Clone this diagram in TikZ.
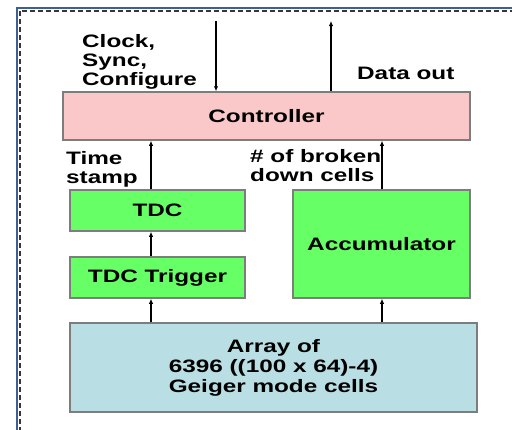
\documentclass[tikz,border=0pt]{standalone}
\usepackage{fontspec}
\setmainfont{Liberation Sans}[FakeStretch=1.35]
\usetikzlibrary{arrows.meta}
\definecolor{pinkfill}{RGB}{250,200,200}
\definecolor{greenfill}{RGB}{102,255,102}
\definecolor{bluefill}{RGB}{185,222,227}
\definecolor{boxedge}{RGB}{125,125,125}
\definecolor{frameblue}{RGB}{60,95,150}
\definecolor{framedash}{RGB}{55,55,55}
\tikzset{
  box/.style={draw=boxedge, line width=1.5pt, inner sep=0pt, align=center,
    font=\fontsize{18}{20}\selectfont\bfseries},
  lbl/.style={inner sep=0pt, align=left, font=\fontsize{18}{19}\selectfont\bfseries},
  arr/.style={line width=1.8pt, -{Latex[length=5pt,width=4.5pt]}},
}
\begin{document}
\begin{tikzpicture}[x=1pt,y=-1pt]
\useasboundingbox (0,0) rectangle (512,429);
% frame
\draw[frameblue, line width=1.6pt] (17,440) -- (17,8) -- (520,8);
\draw[framedash, line width=1.6pt, dash pattern=on 5pt off 3pt] (19.7,440) -- (19.7,10.7) -- (520,10.7);
% boxes
\node[box, fill=pinkfill, minimum width=407pt, minimum height=48pt] (ctrl) at (266.5,116) {Controller};
\node[box, fill=greenfill, minimum width=175pt, minimum height=41pt] (tdc) at (157.5,210.5) {TDC};
\node[box, fill=greenfill, minimum width=175pt, minimum height=41pt] (trig) at (157.5,277.5) {TDC Trigger};
\node[box, fill=greenfill, minimum width=177pt, minimum height=108pt] (acc) at (381.5,244) {Accumulator};
\node[box, fill=bluefill, minimum width=407pt, minimum height=89pt] (arr) at (273.5,367.5) {Array of\\6396 ((100 x 64)-4)\\Geiger mode cells};
% coordinates
\coordinate (xl) at (151,0);
\coordinate (xr) at (382,0);
\coordinate (inTop) at (216,21);
\coordinate (outTop) at (331,21);
% arrows
\draw[arr] (inTop) -- (ctrl.north -| inTop);
\draw[arr] (ctrl.north -| outTop) -- (outTop);
\draw[arr] (tdc.north -| xl) -- (ctrl.south -| xl);
\draw[arr] (trig.north -| xl) -- (tdc.south -| xl);
\draw[arr] (arr.north -| xl) -- (trig.south -| xl);
\draw[arr] (arr.north -| xr) -- (acc.south -| xr);
\draw[arr] (acc.north -| xr) -- (ctrl.south -| xr);
% labels
\node[lbl, anchor=north west] (clk) at (82,34) {Clock,\\Sync,\\Configure};
\node[lbl, anchor=north west] (dout) at (357,67) {Data out};
\node[lbl, anchor=north west] (ts) at (66,151) {Time\\stamp};
\node[lbl, anchor=north west] (brk) at (250,149) {\# of broken\\down cells};
\end{tikzpicture}
\end{document}
